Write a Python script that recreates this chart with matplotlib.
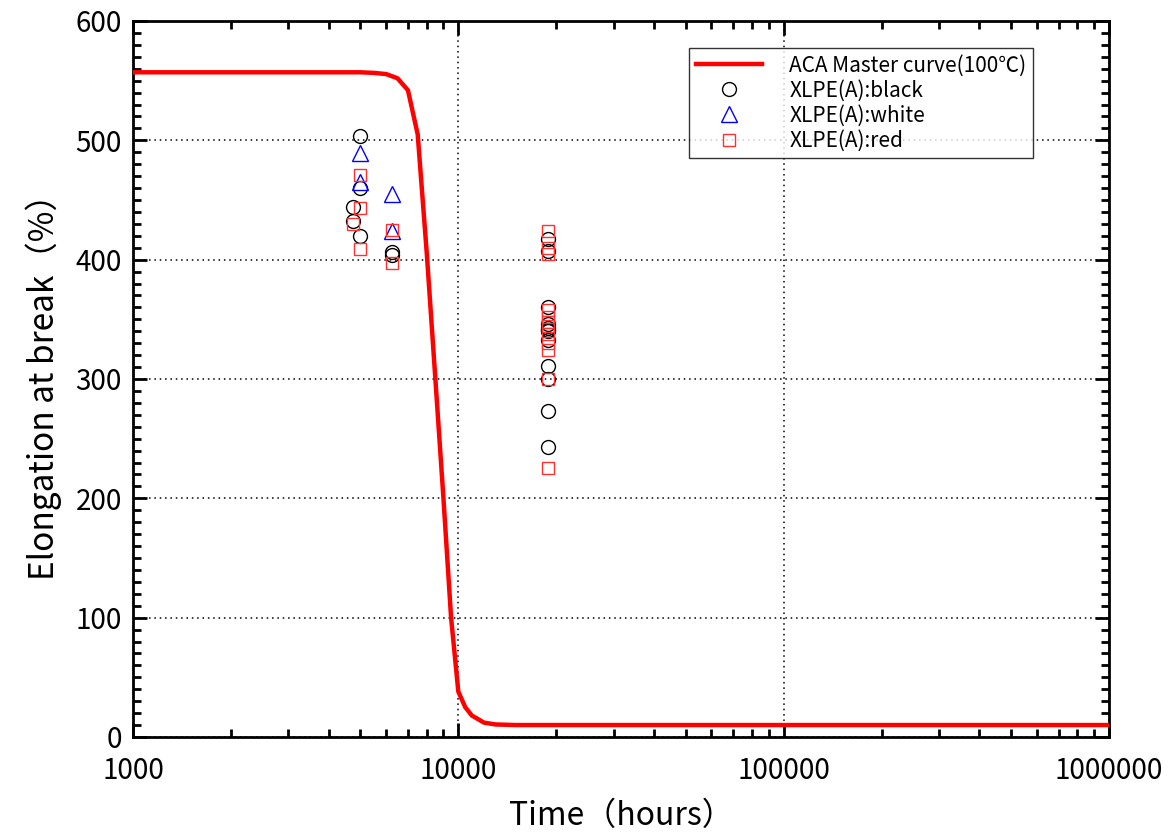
import numpy as np
import matplotlib
matplotlib.use("Agg")
import matplotlib.pyplot as plt
from matplotlib.ticker import FixedLocator, MultipleLocator, LogLocator, NullFormatter

plt.rcParams['font.family'] = ['Noto Sans CJK JP', 'DejaVu Sans']

# Master curve (hours, %)
curve_t = [1000, 3000, 5000, 5500, 6000, 6500, 7000, 7500, 8000, 8500, 9000,
           9500, 10000, 10500, 11000, 12000, 13000, 15000, 100000, 1000000]
curve_e = [557, 557, 557, 556.5, 555.5, 552, 542, 505, 405, 300, 200,
           100, 38, 25, 18, 12, 10.5, 10, 10, 10]

# XLPE(A) black
black_t = [5000, 5000, 4750, 4750, 5000, 6250, 6250,
           18800, 18800, 18800, 18800, 18800, 18800, 18800, 18800, 18800, 18800, 18800, 18800]
black_e = [504, 460, 444, 432, 420, 406, 404,
           417, 407, 360, 346, 343, 341, 340, 333, 311, 300, 273, 243]

# XLPE(A) white
white_t = [5000, 5000, 6250, 6250]
white_e = [489, 465, 455, 424]

# XLPE(A) red
red_t = [5000, 5000, 4750, 5000, 6250, 6250,
         18800, 18800, 18800, 18800, 18800, 18800, 18800, 18800, 18800, 18800, 18800, 18800]
red_e = [471, 443, 430, 409, 425, 397,
         424, 410, 405, 358, 352, 348, 344, 338, 330, 324, 300, 225]

xticks = [1000, 10000, 100000, 1000000]
xticklabels = ["1000", "10000", "100000", "1000000"]

fig = plt.figure(figsize=(11.71, 8.39), dpi=100)
ax = fig.add_axes([0.1136, 0.1216, 0.8334, 0.8534])

ax.plot(curve_t, curve_e, color="red", lw=3.2, label="ACA Master curve(100℃)", zorder=3)
ax.plot(black_t, black_e, ls="none", marker="o", ms=10, mfc="none", mec="black",
        mew=1.0, label="XLPE(A):black", zorder=4)
ax.plot(white_t, white_e, ls="none", marker="^", ms=11, mfc="none", mec="blue",
        mew=1.0, label="XLPE(A):white", zorder=4)
ax.plot(red_t, red_e, ls="none", marker="s", ms=9, mfc="none", mec="#ff3030",
        mew=1.0, label="XLPE(A):red", zorder=4)

ax.set_xscale("log")
ax.set_xlim(1000, 1000000)
ax.set_ylim(0, 600)
ax.xaxis.set_major_locator(FixedLocator(xticks))
ax.set_xticklabels(xticklabels)
ax.xaxis.set_minor_locator(LogLocator(base=10, subs=np.arange(2, 10)))
ax.xaxis.set_minor_formatter(NullFormatter())
ax.yaxis.set_major_locator(MultipleLocator(100))
ax.yaxis.set_minor_locator(MultipleLocator(10))

ax.grid(True, which="major", color="black", ls=(0, (1, 2.5)), lw=1.1)
ax.tick_params(which="both", direction="in", top=True, right=True, width=2)
ax.tick_params(which="major", length=10, labelsize=20)
ax.tick_params(axis="x", which="major", pad=14)
ax.tick_params(axis="y", which="major", pad=8)
ax.tick_params(which="minor", length=6)
for s in ax.spines.values():
    s.set_linewidth(2)

ax.set_xlabel("Time（hours）", fontsize=23, labelpad=10)
ax.set_ylabel("Elongation at break（%）", fontsize=24, labelpad=10)

leg = ax.legend(loc="upper right", bbox_to_anchor=(0.922, 0.962), fontsize=15,
                frameon=True, fancybox=False, edgecolor="black", handlelength=3.2,
                borderpad=0.3, labelspacing=0.15, handletextpad=1.3, borderaxespad=0)
leg.get_frame().set_linewidth(1.0)

fig.savefig("out.png", dpi=100)
